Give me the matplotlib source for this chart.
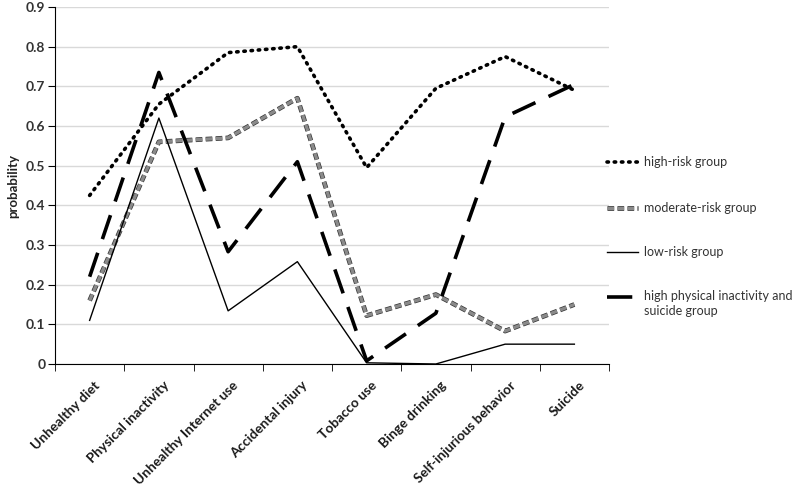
import matplotlib
matplotlib.use("Agg")
import matplotlib.pyplot as plt
import matplotlib.patheffects as pe
import matplotlib.transforms as mtransforms
from matplotlib.lines import Line2D
import numpy as np

categories = ["Unhealthy diet", "Physical inactivity", "Unhealthy Internet use",
              "Accidental injury", "Tobacco use", "Binge drinking",
              "Self-injurious behavior", "Suicide"]
high_risk = [0.425, 0.655, 0.785, 0.80, 0.495, 0.695, 0.775, 0.69]
moderate_risk = [0.16, 0.56, 0.57, 0.67, 0.122, 0.175, 0.083, 0.15]
low_risk = [0.11, 0.62, 0.134, 0.258, 0.003, 0.0, 0.05, 0.05]
high_pa_suicide = [0.22, 0.735, 0.283, 0.51, 0.008, 0.128, 0.623, 0.705]
y_ticks = [0, 0.1, 0.2, 0.3, 0.4, 0.5, 0.6, 0.7, 0.8, 0.9]
legend_labels = ["high-risk group", "moderate-risk group", "low-risk group",
                 "high physical inactivity and\nsuicide group"]

plt.rcParams['font.family'] = ['Lato', 'DejaVu Sans']

fig = plt.figure(figsize=(7.92, 4.86), dpi=100)
ax = fig.add_axes([55/792, 1-364/486, (609-55)/792, (364-7)/486])

styles = [
    dict(color='black', lw=2.6, linestyle=(0, (0.4, 1.6)), dash_capstyle='round'),
    dict(color='#8a8a8a', lw=2.4, linestyle=(0, (2.0, 1.0)),
         path_effects=[pe.Stroke(linewidth=3.4, foreground='#333333'), pe.Normal()]),
    dict(color='black', lw=1.0),
    dict(color='black', lw=2.6, linestyle=(0, (7, 4))),
]

x = np.arange(len(categories))
for series, st in zip([high_risk, moderate_risk, low_risk, high_pa_suicide], styles):
    ax.plot(x, series, **st)

ax.set_xlim(-0.5, len(categories) - 0.5)
ax.set_ylim(0, 0.9)
ax.set_yticks(y_ticks)
ax.set_yticklabels([f"{v:g}" for v in y_ticks], fontsize=10, fontweight='bold', color='#333333')
ax.yaxis.grid(True, color='#d9d9d9', lw=1)
ax.set_axisbelow(True)

# category labels, drawn as rotated texts anchored below each category
ax.set_xticks([])
lab_tr = ax.get_xaxis_transform() + mtransforms.ScaledTranslation(4/100, -15/100, fig.dpi_scale_trans)
for xi, cat in zip(x, categories):
    ax.text(xi, 0, cat, transform=lab_tr, rotation=45, ha='right', va='top',
            rotation_mode='anchor', fontsize=9.8, fontweight='bold', color='#1a1a1a')
ax.set_xticks(np.arange(-0.5, len(categories)), minor=True)
ax.tick_params(axis='x', which='minor', length=5, direction='out', color='black')
ax.tick_params(axis='y', length=5, direction='out', color='black', pad=2)

for s in ['top', 'right']:
    ax.spines[s].set_visible(False)
ax.spines['left'].set_color('black')
ax.spines['bottom'].set_color('black')

ax.set_ylabel('probability', fontsize=9.5, fontweight='bold', color='#222222', labelpad=5)

# manual legend (handle aligned with first line of text)
leg_y = [162, 208, 252, 297]
for lab, st, yy in zip(legend_labels, styles, leg_y):
    yf = 1 - yy/486
    fig.add_artist(Line2D([607/792, 638/792], [yf, yf], transform=fig.transFigure, **st))
    fig.text(644/792, yf, lab, fontsize=9, color='#333333', va='top' if '\n' in lab else 'center',
             linespacing=1.3,
             transform=fig.transFigure + mtransforms.ScaledTranslation(0, 7/100 if '\n' in lab else 0, fig.dpi_scale_trans))

fig.savefig('out.png', dpi=100)
